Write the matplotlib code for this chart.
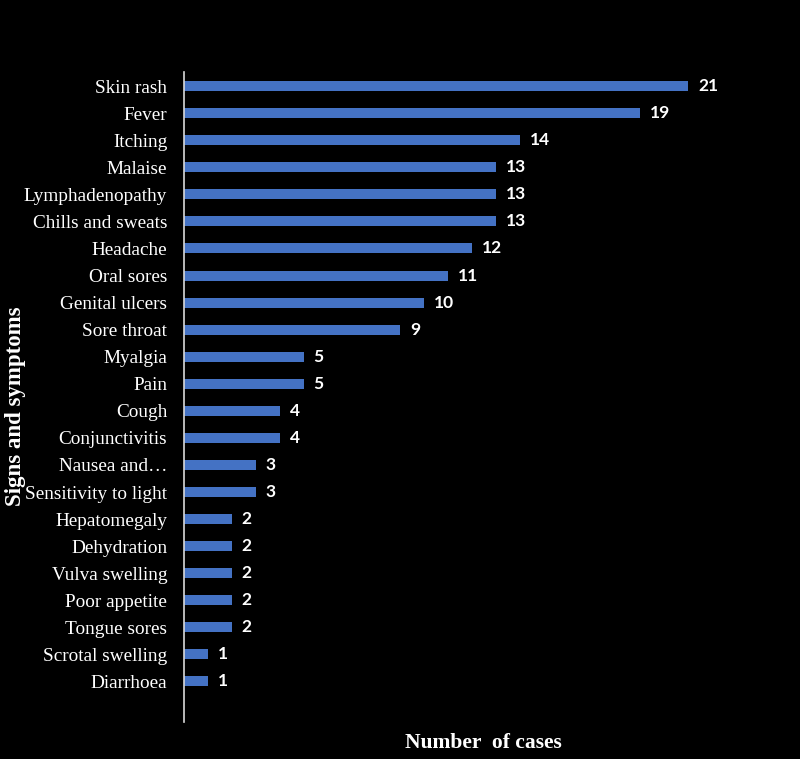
import matplotlib.pyplot as plt

# symptoms, top to bottom as shown
symptoms = ["Skin rash", "Fever", "Itching", "Malaise", "Lymphadenopathy",
            "Chills and sweats", "Headache", "Oral sores", "Genital ulcers",
            "Sore throat", "Myalgia", "Pain", "Cough", "Conjunctivitis",
            "Nausea and\u2026", "Sensitivity to light", "Hepatomegaly",
            "Dehydration", "Vulva swelling", "Poor appetite", "Tongue sores",
            "Scrotal swelling", "Diarrhoea"]
cases = [21, 19, 14, 13, 13, 13, 12, 11, 10, 9, 5, 5, 4, 4, 3, 3, 2, 2, 2, 2, 2, 1, 1]

fig = plt.figure(figsize=(8, 7.59), dpi=100, facecolor="black")
ax = fig.add_axes([0.23, 0.0487, 0.7475, 0.8564])
ax.set_facecolor("black")

pos = list(range(len(symptoms)))
ax.barh(pos, cases, height=0.37, color="#4472C4")
for p, v in zip(pos, cases):
    ax.text(v + 0.4, p, str(v), va="center", ha="left", color="white",
            fontsize=12.5, fontweight="bold", family="Lato")

ax.set_yticks(pos)
ax.set_yticklabels(symptoms, family="Liberation Serif", fontsize=13.9, color="white")
ax.set_ylim(len(symptoms) - 1 + 1.5, -0.52)
ax.set_xlim(0, 24.9)
ax.set_xticks([])
ax.tick_params(axis="y", length=0, pad=12)

for s in ["top", "right", "bottom"]:
    ax.spines[s].set_visible(False)
ax.spines["left"].set_color("#d9d9d9")
ax.spines["left"].set_linewidth(1.2)

ax.set_xlabel("Number  of cases", family="Liberation Serif", fontsize=15.5,
              fontweight="bold", color="white", labelpad=8)
fig.text(0.02, 0.465, "Signs and symptoms", rotation=90, ha="center", va="center",
         family="Liberation Serif", fontsize=16.5, fontweight="bold", color="white")

fig.savefig("out.png", facecolor="black")
